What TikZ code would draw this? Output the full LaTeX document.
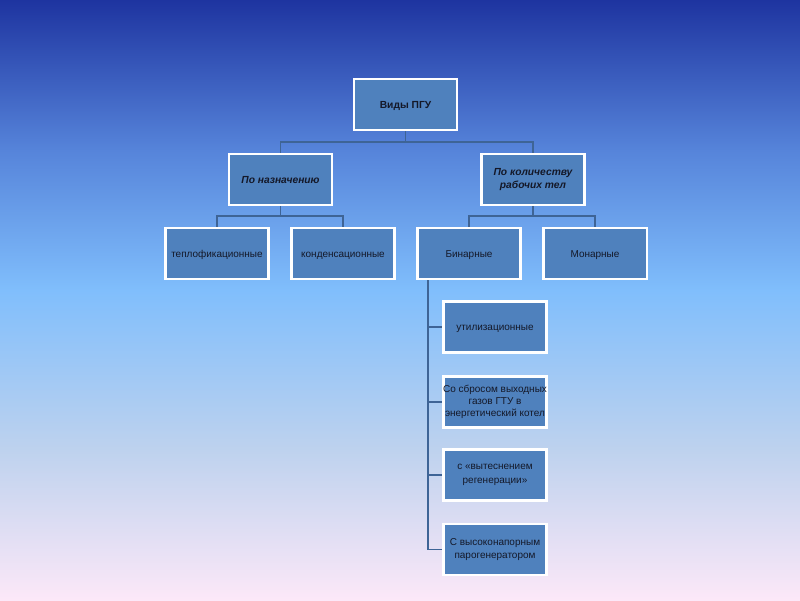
\documentclass[tikz,border=0pt]{standalone}
\usepackage{fontspec}
\setmainfont{Liberation Sans}
\usetikzlibrary{calc}
\definecolor{bgA}{RGB}{30,52,160}
\definecolor{bgB}{RGB}{86,132,218}
\definecolor{bgC}{RGB}{128,190,252}
\definecolor{bgD}{RGB}{190,210,238}
\definecolor{bgE}{RGB}{252,232,248}
\definecolor{boxfill}{RGB}{79,129,189}
\definecolor{conncol}{RGB}{62,100,150}
\definecolor{txt}{RGB}{20,24,40}
\newcommand{\ctrline}[1]{\makebox[2.3cm][c]{#1}}
\tikzset{
  box/.style={draw=white, line width=1.6pt, fill=boxfill, minimum width=2.58cm, minimum height=1.28cm,
    inner sep=1pt, text=txt, font=\fontsize{7.1}{9.5}\selectfont},
  single/.style={text height=1ex, text depth=0pt},
  multi/.style={align=center},
  conn/.style={draw=conncol, line width=1.3pt}
}
\begin{document}
\begin{tikzpicture}[x=0.025cm,y=-0.025cm]
\useasboundingbox (0,0) rectangle (800,600);
\shade[top color=bgA, bottom color=bgB] (0,0) rectangle (800,150.5);
\shade[top color=bgB, bottom color=bgC] (0,150) rectangle (800,290.5);
\shade[top color=bgC, bottom color=bgD] (0,290) rectangle (800,450.5);
\shade[top color=bgD, bottom color=bgE] (0,450) rectangle (800,600);

\coordinate (bus1) at (0,142);
\coordinate (bus2) at (0,216);
\coordinate (spine) at (428,0);

\node[box, single, font=\bfseries\fontsize{7.3}{8}\selectfont] (root) at (405.5,104.5) {Виды ПГУ};
\node[box, single, font=\bfseries\itshape\fontsize{7.3}{8}\selectfont] (p1) at (280.5,179.5) {По назначению};
\node[box, multi, font=\bfseries\itshape\fontsize{7.3}{8.8}\selectfont] (p2) at (533,179.5) {По количеству\\рабочих тел};
\node[box, single] (t1) at (217,253.5) {теплофикационные};
\node[box, single] (t2) at (343,253.5) {конденсационные};
\node[box, single] (t3) at (469,253.5) {Бинарные};
\node[box, single] (t4) at (595,253.5) {Монарные};
\node[box, single] (b1) at (495,327) {утилизационные};
\node[box, multi, font=\fontsize{7.1}{8.3}\selectfont] (b2) at (495,402) {\ctrline{Со сбросом выходных}\\\ctrline{газов ГТУ в}\\\ctrline{энергетический котел}};
\node[box, multi] (b3) at (495,475) {с «вытеснением\\регенерации»};
\node[box, multi] (b4) at (495,549.5) {С высоконапорным\\парогенератором};

\draw[conn] (root.south) -- (root.south |- bus1);
\draw[conn] (p1.north) |- (p2.north |- bus1) -- (p2.north);
\draw[conn] (p1.south) -- (p1.south |- bus2);
\draw[conn] (t1.north) |- (t2.north |- bus2) -- (t2.north);
\draw[conn] (p2.south) -- (p2.south |- bus2);
\draw[conn] (t3.north) |- (t4.north |- bus2) -- (t4.north);
\draw[conn] (t3.south -| spine) |- (b4.west);
\draw[conn] (spine |- b1.west) -- (b1.west);
\draw[conn] (spine |- b2.west) -- (b2.west);
\draw[conn] (spine |- b3.west) -- (b3.west);
\end{tikzpicture}
\end{document}
